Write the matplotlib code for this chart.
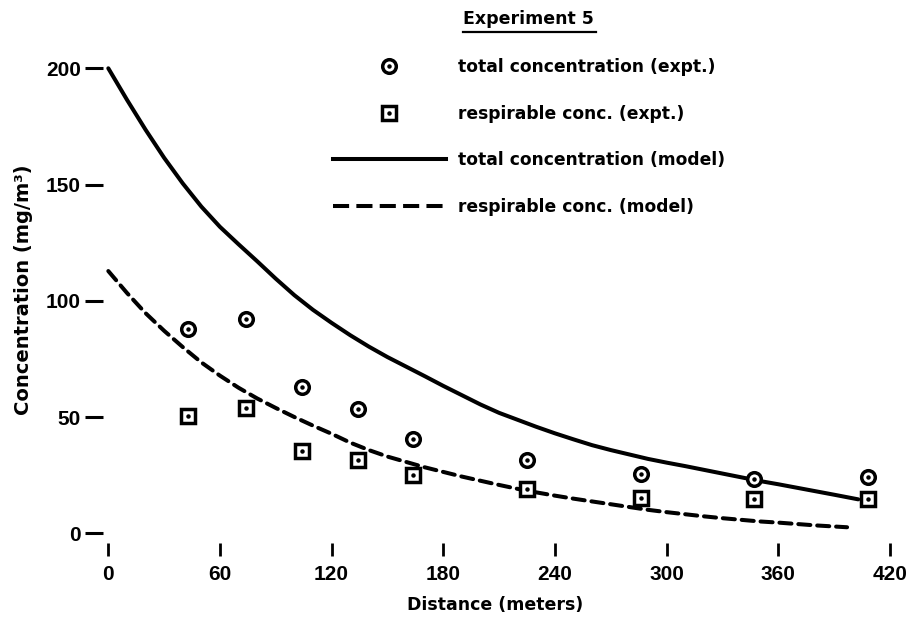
import matplotlib
matplotlib.use("Agg")
import matplotlib.pyplot as plt
from matplotlib.lines import Line2D
from matplotlib.legend_handler import HandlerTuple

# experiment 5, measured values
distance = [43, 74, 104, 134, 164, 225, 286, 347, 408]
total_expt = [87.7, 92.0, 63.1, 53.3, 40.4, 31.5, 25.4, 23.2, 24.3]
resp_expt = [50.5, 53.9, 35.5, 31.5, 24.9, 19.1, 15.3, 14.6, 14.6]

# model curves
model_total_x = [0, 10, 20, 30, 40, 50, 60, 70, 80, 90, 100, 110, 120, 130,
                 140, 150, 160, 170, 180, 190, 200, 210, 220, 230, 240, 250,
                 260, 270, 280, 290, 300, 310, 320, 330, 340, 350, 360, 370,
                 380, 390, 403]
model_total_y = [200, 186.5, 173.6, 161.5, 150.5, 140.5, 131.8, 124.3, 117.0,
                 109.5, 102.4, 96.1, 90.5, 85.2, 80.3, 75.8, 71.7, 67.6, 63.4,
                 59.4, 55.4, 51.8, 48.8, 45.8, 43.0, 40.4, 37.9, 35.8, 33.9,
                 32.0, 30.4, 28.9, 27.3, 25.7, 24.1, 22.5, 21.1, 19.6, 18.1,
                 16.6, 14.6]
model_resp_x = [0, 10, 20, 30, 40, 50, 60, 70, 80, 90, 100, 110, 120, 130,
                140, 150, 160, 170, 180, 190, 200, 210, 220, 230, 240, 250,
                260, 270, 280, 290, 300, 310, 320, 330, 340, 350, 360, 370,
                380, 397]
model_resp_y = [112.8, 103.4, 94.7, 87.1, 80.1, 73.5, 67.8, 62.6, 58.0, 53.9,
                50.0, 46.3, 42.8, 39.0, 35.8, 33.0, 30.7, 28.4, 26.4, 24.4,
                22.6, 20.8, 19.1, 17.6, 16.2, 14.9, 13.7, 12.5, 11.3, 10.1,
                9.1, 8.2, 7.3, 6.5, 5.8, 5.1, 4.6, 4.0, 3.4, 2.6]

x_ticks = [0, 60, 120, 180, 240, 300, 360, 420]
y_ticks = [0, 50, 100, 150, 200]

labels = ["total concentration (expt.)", "respirable conc. (expt.)",
          "total concentration (model)", "respirable conc. (model)"]

fig = plt.figure(figsize=(9.09, 6.32), dpi=100)
W, H = 909, 632
# axes placed so that 0..420 / 0..200 land where the original has them
ax = fig.add_axes([89.7 / W, 1 - 556.55 / H, 818.8 / W, 511.5 / H])
ax.set_xlim(-10, 430)
ax.set_ylim(-10, 210)

lw = 2.9
ax.plot(model_total_x, model_total_y, color="black", lw=lw,
        solid_capstyle="round", solid_joinstyle="round", clip_on=False)
ax.plot(model_resp_x, model_resp_y, color="black", lw=lw,
        ls=(0, (3, 1.7)), dash_capstyle="round", clip_on=False)

ring = dict(ls="none", mfc="white", mec="black", mew=2.5, ms=9.8, clip_on=False)
dot = dict(ls="none", marker="o", color="black", ms=2.2, clip_on=False)
ax.plot(distance, total_expt, marker="o", **ring)
ax.plot(distance, total_expt, **dot)
ax.plot(distance, resp_expt, marker="s", **ring)
ax.plot(distance, resp_expt, **dot)

for side in ["top", "right"]:
    ax.spines[side].set_visible(False)
ax.spines["left"].set_position(("data", -2.8))
ax.spines["bottom"].set_position(("data", -4.2))
ax.spines["left"].set_color("none")
ax.spines["bottom"].set_color("none")

ax.set_xticks(x_ticks)
ax.set_yticks(y_ticks)
ax.tick_params(axis="y", direction="out", length=13, width=2.2, pad=3,
               color="black")
ax.tick_params(axis="x", direction="out", length=9.4, width=2.0, pad=6.5,
               color="black")
for t in ax.get_xticklabels() + ax.get_yticklabels():
    t.set_family("Liberation Sans")
    t.set_fontweight("bold")
    t.set_fontsize(15)

fig.text(495 / W, 1 - 605 / H, "Distance (meters)", ha="center", va="center",
         fontsize=12.5, fontweight="bold")
fig.text(24 / W, 1 - 290 / H, "Concentration (mg/m³)", ha="center",
         va="center", rotation=90, fontsize=14, fontweight="bold")

# legend
h_total = (Line2D([], [], marker="o", **ring), Line2D([], [], **dot))
h_resp = (Line2D([], [], marker="s", **ring), Line2D([], [], **dot))
h_mt = Line2D([], [], color="black", lw=lw)
h_mr = Line2D([], [], color="black", lw=lw, ls=(0, (4, 1.8)))
fig.legend([h_total, h_resp, h_mt, h_mr], labels,
           handler_map={tuple: HandlerTuple(ndivide=1)},
           loc="upper left", bbox_to_anchor=(333 / W, 1 - 58 / H),
           frameon=False, borderpad=0, borderaxespad=0,
           handlelength=6.6, handletextpad=0.7, labelspacing=1.68,
           prop={"weight": "bold", "size": 12.3})

fig.text(463 / W, 1 - 19 / H, "Experiment 5", ha="left", va="center",
         fontsize=12.5, fontweight="bold")
fig.add_artist(Line2D([463 / W, 596 / W], [1 - 32 / H, 1 - 32 / H],
                      color="black", lw=1.6, transform=fig.transFigure))

fig.savefig("out.png", dpi=100, facecolor="white")
